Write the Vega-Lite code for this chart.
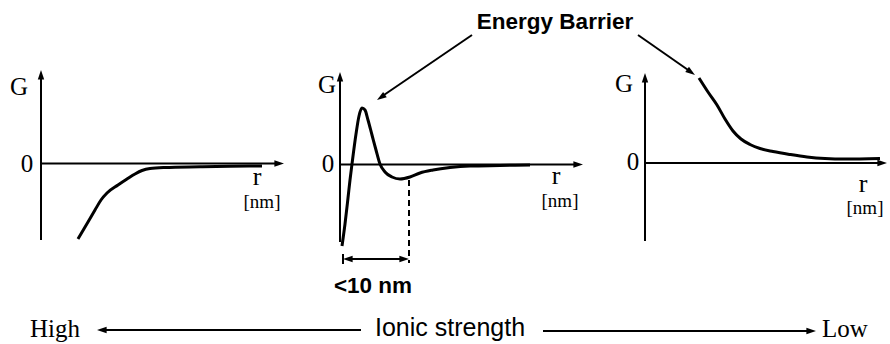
{
  "$schema": "https://vega.github.io/schema/vega-lite/v6.json",
  "width": 890,
  "height": 344,
  "padding": 0,
  "autosize": {"type": "fit", "contains": "padding"},
  "background": "white",
  "config": {"view": {"stroke": null}},
  "datasets": {
    "segments": [
      {"id": "a1v", "x": 41, "y": 76}, {"id": "a1v", "x": 41, "y": 240},
      {"id": "a1h", "x": 41, "y": 163.5}, {"id": "a1h", "x": 278, "y": 163.5},
      {"id": "a2v", "x": 340, "y": 78}, {"id": "a2v", "x": 340, "y": 242},
      {"id": "a2h", "x": 340, "y": 164.5}, {"id": "a2h", "x": 577, "y": 164.5},
      {"id": "a3v", "x": 645, "y": 79}, {"id": "a3v", "x": 645, "y": 241},
      {"id": "a3h", "x": 645, "y": 163}, {"id": "a3h", "x": 881, "y": 163},
      {"id": "eb1", "x": 472, "y": 35}, {"id": "eb1", "x": 381, "y": 97},
      {"id": "eb2", "x": 638, "y": 35}, {"id": "eb2", "x": 691, "y": 72},
      {"id": "dim", "x": 346, "y": 259}, {"id": "dim", "x": 405, "y": 259},
      {"id": "dimbar", "x": 343, "y": 254}, {"id": "dimbar", "x": 343, "y": 264},
      {"id": "ion1", "x": 102, "y": 330}, {"id": "ion1", "x": 361, "y": 330},
      {"id": "ion2", "x": 543, "y": 331}, {"id": "ion2", "x": 810, "y": 331}
    ],
    "curves": [
      {"id": "c1", "x": 78, "y": 239}, {"id": "c1", "x": 88, "y": 222}, {"id": "c1", "x": 95, "y": 210},
      {"id": "c1", "x": 101, "y": 200}, {"id": "c1", "x": 107, "y": 193}, {"id": "c1", "x": 118, "y": 185},
      {"id": "c1", "x": 127, "y": 179}, {"id": "c1", "x": 135, "y": 174}, {"id": "c1", "x": 142, "y": 170.5},
      {"id": "c1", "x": 150, "y": 168.5}, {"id": "c1", "x": 165, "y": 167.5}, {"id": "c1", "x": 200, "y": 166.8},
      {"id": "c1", "x": 230, "y": 166.3}, {"id": "c1", "x": 262, "y": 166},
      {"id": "c2", "x": 342, "y": 246}, {"id": "c2", "x": 345, "y": 224}, {"id": "c2", "x": 348, "y": 198},
      {"id": "c2", "x": 350, "y": 180}, {"id": "c2", "x": 352, "y": 164}, {"id": "c2", "x": 356, "y": 134},
      {"id": "c2", "x": 359, "y": 116}, {"id": "c2", "x": 362, "y": 108}, {"id": "c2", "x": 365, "y": 110},
      {"id": "c2", "x": 368, "y": 120}, {"id": "c2", "x": 372, "y": 135}, {"id": "c2", "x": 376, "y": 150},
      {"id": "c2", "x": 380, "y": 164}, {"id": "c2", "x": 385, "y": 172}, {"id": "c2", "x": 392, "y": 177},
      {"id": "c2", "x": 400, "y": 179}, {"id": "c2", "x": 410, "y": 177}, {"id": "c2", "x": 420, "y": 173},
      {"id": "c2", "x": 433, "y": 170}, {"id": "c2", "x": 450, "y": 167.5}, {"id": "c2", "x": 470, "y": 166},
      {"id": "c2", "x": 500, "y": 165.5}, {"id": "c2", "x": 530, "y": 165},
      {"id": "c3", "x": 699, "y": 78}, {"id": "c3", "x": 708, "y": 92}, {"id": "c3", "x": 717, "y": 105},
      {"id": "c3", "x": 725, "y": 119}, {"id": "c3", "x": 733, "y": 131}, {"id": "c3", "x": 741, "y": 139},
      {"id": "c3", "x": 750, "y": 144.5}, {"id": "c3", "x": 760, "y": 148.5}, {"id": "c3", "x": 773, "y": 151.5},
      {"id": "c3", "x": 790, "y": 154.5}, {"id": "c3", "x": 807, "y": 157}, {"id": "c3", "x": 825, "y": 158.5},
      {"id": "c3", "x": 845, "y": 159}, {"id": "c3", "x": 880, "y": 158.5}
    ],
    "dashed": [
      {"id": "d", "x": 409, "y": 180}, {"id": "d", "x": 409, "y": 263}
    ],
    "heads": [
      {"x": 41, "y": 70, "dir": "up"}, {"x": 340, "y": 72, "dir": "up"}, {"x": 645, "y": 73, "dir": "up"},
      {"x": 284, "y": 163.5, "dir": "right"}, {"x": 583, "y": 164.5, "dir": "right"}, {"x": 887, "y": 163, "dir": "right"},
      {"x": 377, "y": 100, "dir": "downleft"}, {"x": 695, "y": 75, "dir": "downright"},
      {"x": 343, "y": 259, "dir": "left"}, {"x": 409, "y": 259, "dir": "right"},
      {"x": 97, "y": 330, "dir": "left"}, {"x": 816, "y": 331, "dir": "right"}
    ],
    "labels": [
      {"text": "G", "x": 19, "y": 95, "kind": "serif"},
      {"text": "G", "x": 327, "y": 93, "kind": "serif"},
      {"text": "G", "x": 624, "y": 92, "kind": "serif"},
      {"text": "0", "x": 27, "y": 172, "kind": "serif"},
      {"text": "0", "x": 328, "y": 172, "kind": "serif"},
      {"text": "0", "x": 633, "y": 170, "kind": "serif"},
      {"text": "High", "x": 55, "y": 337, "kind": "serif"},
      {"text": "Low", "x": 845, "y": 337, "kind": "serif"},
      {"text": "r", "x": 257, "y": 185, "kind": "r"},
      {"text": "r", "x": 556, "y": 184, "kind": "r"},
      {"text": "r", "x": 863, "y": 192, "kind": "r"},
      {"text": "[nm]", "x": 262, "y": 208, "kind": "nm"},
      {"text": "[nm]", "x": 560, "y": 207, "kind": "nm"},
      {"text": "[nm]", "x": 865, "y": 214, "kind": "nm"},
      {"text": "Energy Barrier", "x": 555, "y": 29, "kind": "bold"},
      {"text": "<10 nm", "x": 373, "y": 293, "kind": "bold"},
      {"text": "Ionic strength", "x": 450, "y": 336, "kind": "sans"}
    ]
  },
  "encoding": {
    "x": {"field": "x", "type": "quantitative", "scale": {"domain": [0, 890], "nice": false, "zero": false}, "axis": null},
    "y": {"field": "y", "type": "quantitative", "scale": {"domain": [0, 344], "nice": false, "zero": false, "reverse": true}, "axis": null}
  },
  "layer": [
    {
      "data": {"name": "segments"},
      "mark": {"type": "line", "color": "black", "strokeWidth": 2},
      "encoding": {"detail": {"field": "id", "type": "nominal"}}
    },
    {
      "data": {"name": "curves"},
      "mark": {"type": "line", "color": "black", "strokeWidth": 3, "interpolate": "monotone"},
      "encoding": {"detail": {"field": "id", "type": "nominal"}}
    },
    {
      "data": {"name": "dashed"},
      "mark": {"type": "line", "color": "black", "strokeWidth": 2, "strokeDash": [6, 4]},
      "encoding": {"detail": {"field": "id", "type": "nominal"}}
    },
    {
      "data": {"name": "heads"},
      "mark": {"type": "point", "filled": true, "color": "black", "opacity": 1, "size": 64, "strokeWidth": 0},
      "encoding": {
        "shape": {
          "field": "dir", "type": "nominal", "legend": null,
          "scale": {
            "domain": ["up", "right", "left", "downleft", "downright"],
            "range": [
              "M0,0L-0.8,2.4L0.8,2.4Z",
              "M0,0L-2.4,-0.8L-2.4,0.8Z",
              "M0,0L2.4,-0.8L2.4,0.8Z",
              "M0,0L2.43,-0.7L1.53,-2.02Z",
              "M0,0L-2.43,-0.73L-1.51,-2.04Z"
            ]
          }
        }
      }
    },
    {
      "data": {"name": "labels"},
      "transform": [{"filter": "datum.kind === 'serif'"}],
      "mark": {"type": "text", "font": "Liberation Serif", "fontSize": 25, "align": "center", "baseline": "alphabetic", "color": "black"},
      "encoding": {"text": {"field": "text"}}
    },
    {
      "data": {"name": "labels"},
      "transform": [{"filter": "datum.kind === 'r'"}],
      "mark": {"type": "text", "font": "Liberation Serif", "fontSize": 26, "align": "center", "baseline": "alphabetic", "color": "black"},
      "encoding": {"text": {"field": "text"}}
    },
    {
      "data": {"name": "labels"},
      "transform": [{"filter": "datum.kind === 'nm'"}],
      "mark": {"type": "text", "font": "Liberation Serif", "fontSize": 19, "align": "center", "baseline": "alphabetic", "color": "black"},
      "encoding": {"text": {"field": "text"}}
    },
    {
      "data": {"name": "labels"},
      "transform": [{"filter": "datum.kind === 'bold'"}],
      "mark": {"type": "text", "font": "Liberation Sans", "fontSize": 22.5, "fontWeight": "bold", "align": "center", "baseline": "alphabetic", "color": "black"},
      "encoding": {"text": {"field": "text"}}
    },
    {
      "data": {"name": "labels"},
      "transform": [{"filter": "datum.kind === 'sans'"}],
      "mark": {"type": "text", "font": "Liberation Sans", "fontSize": 25, "align": "center", "baseline": "alphabetic", "color": "black"},
      "encoding": {"text": {"field": "text"}}
    }
  ]
}
